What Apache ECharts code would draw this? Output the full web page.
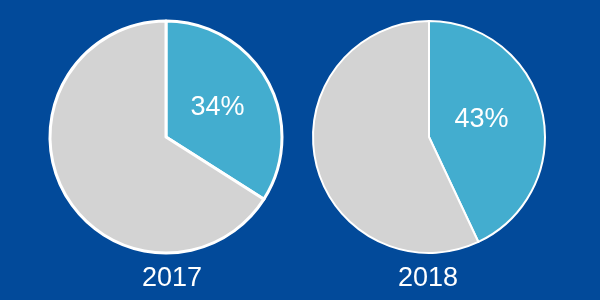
<!DOCTYPE html>
<html><head><meta charset="utf-8">
<script src="https://cdn.jsdelivr.net/npm/echarts@6/dist/echarts.min.js"></script>
<style>html,body{margin:0;padding:0;background:#024a9a}#c{width:600px;height:300px}</style>
</head><body><div id="c"></div>
<script>
const years = ['2017', '2018'];
const sharePct = [34, 43];
const centersX = [166, 429];
const yearLabelX = [172, 428];
const labelOffsets = [[-2, 0], [-7, -4]];

const chart = echarts.init(document.getElementById('c'), null, {renderer: 'canvas'});
const series = years.map((y, i) => ({
  type: 'pie',
  center: [centersX[i], 137],
  radius: [0, 116],
  startAngle: 90,
  clockwise: true,
  silent: true,
  animation: false,
  itemStyle: {borderColor: '#ffffff', borderWidth: i === 0 ? 3 : 2},
  label: {show: false},
  labelLine: {show: false},
  data: [
    {value: sharePct[i], itemStyle: {color: '#43adcf'},
     label: {show: true, position: 'inside', formatter: sharePct[i] + '%', color: '#ffffff',
             offset: labelOffsets[i],
             fontSize: 27, fontFamily: 'Liberation Sans, Arial, sans-serif'}},
    {value: 100 - sharePct[i], itemStyle: {color: '#d3d3d3'}}
  ]
}));
chart.setOption({
  backgroundColor: '#024a9a',
  title: years.map((y, i) => ({
    text: y, left: yearLabelX[i], top: 265, textAlign: 'center', padding: 0,
    textStyle: {color: '#ffffff', fontSize: 27, fontWeight: 'normal', fontFamily: 'Liberation Sans, Arial, sans-serif'}
  })),
  series: series
});
</script></body></html>
